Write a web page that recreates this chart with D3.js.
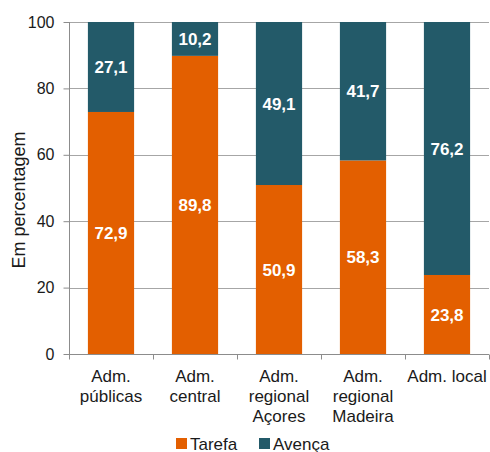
<!DOCTYPE html>
<html>
<head>
<meta charset="utf-8">
<script src="https://cdn.jsdelivr.net/npm/d3@7"></script>
<style>
  html, body { margin: 0; padding: 0; background: #fff; }
  svg { display: block; font-family: "Liberation Sans", Arial, sans-serif; }
</style>
</head>
<body>
<svg id="chart" width="490" height="452"></svg>
<script>
// Categories (each entry is the list of label lines)
const categories = [
  ["Adm.", "públicas"],
  ["Adm.", "central"],
  ["Adm.", "regional", "Açores"],
  ["Adm.", "regional", "Madeira"],
  ["Adm. local"]
];
const tarefa = [72.9, 89.8, 50.9, 58.3, 23.8];
const avenca = [27.1, 10.2, 49.1, 41.7, 76.2];
const seriesNames = ["Tarefa", "Avença"];
const yTicks = [0, 20, 40, 60, 80, 100];
const yTitle = "Em percentagem";

const colors = ["#E35F00", "#235A69"];
const textColor = "#1a1a1a";
const FONT = "Liberation Sans, Arial, sans-serif";

const svg = d3.select("#chart");
const margin = { left: 69, right: 1, top: 22, bottom: 98 };
const W = 490, H = 452;

const x = d3.scaleBand()
  .domain(d3.range(categories.length))
  .range([margin.left, W - margin.right])
  .paddingInner(0.45)
  .paddingOuter(0.225);
const xOuter = d3.scaleBand()
  .domain(d3.range(categories.length))
  .range([margin.left, W - margin.right]);
const y = d3.scaleLinear().domain([0, 100]).range([H - margin.bottom, margin.top]);

// Horizontal gridlines
svg.append("g")
  .selectAll("line")
  .data(yTicks.filter(d => d > 0))
  .join("line")
  .attr("x1", margin.left).attr("x2", W - margin.right)
  .attr("y1", d => Math.round(y(d)) + 0.5).attr("y2", d => Math.round(y(d)) + 0.5)
  .attr("stroke", "#a6a6a6").attr("stroke-width", 1.2);

// Stacked bars
const stackData = categories.map((c, i) => ({ i, Tarefa: tarefa[i], "Avença": avenca[i] }));
const stacked = d3.stack().keys(seriesNames)(stackData);

const layers = svg.append("g").selectAll("g")
  .data(stacked)
  .join("g")
  .attr("fill", (d, k) => colors[k]);

layers.selectAll("rect")
  .data(d => d)
  .join("rect")
  .attr("x", d => x(d.data.i))
  .attr("width", x.bandwidth())
  .attr("y", d => y(d[1]))
  .attr("height", d => y(d[0]) - y(d[1]));

// Value labels
layers.selectAll("text")
  .data(d => d.map(v => ({ v, key: d.key })))
  .join("text")
  .attr("x", d => x(d.v.data.i) + x.bandwidth() / 2)
  .attr("y", d => (y(d.v[0]) + y(d.v[1])) / 2)
  .attr("dy", "0.36em")
  .attr("text-anchor", "middle")
  .attr("fill", "#fff")
  .attr("font-weight", "bold")
  .attr("font-size", 17)
  .text(d => d3.format(".1f")(d.v.data[d.key]).replace(".", ","));

// Y axis
const yAxis = svg.append("g")
  .attr("transform", `translate(${margin.left + 0.5},0)`)
  .call(d3.axisLeft(y).tickValues(yTicks).tickSize(6).tickPadding(9).tickFormat(d3.format("d")));
yAxis.select(".domain").attr("stroke", "#8c8c8c").attr("d", `M0,${y(100)}V${y(0)}`);
yAxis.selectAll(".tick line").attr("stroke", "#8c8c8c");
yAxis.selectAll(".tick text").attr("font-size", 16).attr("fill", textColor)
  .attr("font-family", FONT);

// X axis baseline and tick marks at band boundaries
const xBase = Math.round(y(0)) + 0.5;
svg.append("line")
  .attr("x1", margin.left).attr("x2", W - margin.right)
  .attr("y1", xBase).attr("y2", xBase)
  .attr("stroke", "#8c8c8c").attr("stroke-width", 1);
const bounds = d3.range(categories.length + 1).map(i =>
  i < categories.length ? xOuter(i) : xOuter(i - 1) + xOuter.bandwidth());
svg.append("g").selectAll("line")
  .data(bounds)
  .join("line")
  .attr("x1", d => Math.round(d) + 0.5).attr("x2", d => Math.round(d) + 0.5)
  .attr("y1", xBase).attr("y2", xBase + 5)
  .attr("stroke", "#8c8c8c");

// Category labels
const catG = svg.append("g").selectAll("text")
  .data(categories)
  .join("text")
  .attr("text-anchor", "middle")
  .attr("font-size", 17)
  .attr("fill", textColor)
  .attr("x", (d, i) => xOuter(i) + xOuter.bandwidth() / 2)
  .attr("y", 382);
catG.selectAll("tspan")
  .data(d => d)
  .join("tspan")
  .attr("x", function () { return d3.select(this.parentNode).attr("x"); })
  .attr("dy", (d, j) => j === 0 ? 0 : 20)
  .text(d => d);

// Y axis title
svg.append("text")
  .attr("transform", `translate(25,${(y(0) + y(100)) / 2 + 12}) rotate(-90)`)
  .attr("text-anchor", "middle")
  .attr("font-size", 18)
  .attr("fill", textColor)
  .text(yTitle);

// Legend
const legendItems = [
  { name: seriesNames[0], color: colors[0], x: 176 },
  { name: seriesNames[1], color: colors[1], x: 259 }
];
const lg = svg.append("g").selectAll("g")
  .data(legendItems)
  .join("g")
  .attr("transform", d => `translate(${d.x},438)`);
lg.append("rect").attr("width", 11).attr("height", 11).attr("fill", d => d.color);
lg.append("text")
  .attr("x", 14).attr("y", 11.5)
  .attr("font-size", 17).attr("fill", textColor)
  .text(d => d.name);
</script>
</body>
</html>
